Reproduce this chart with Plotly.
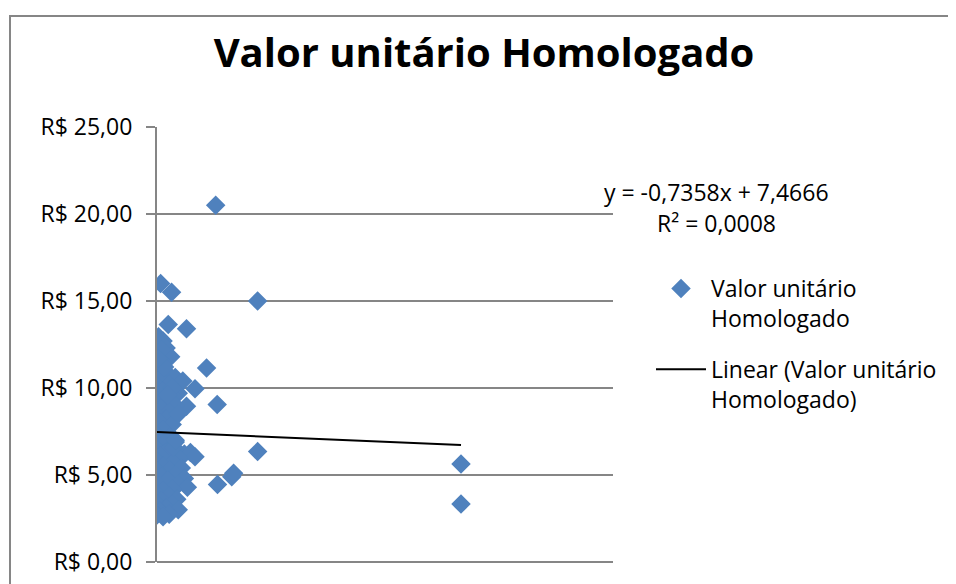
import plotly.graph_objects as go

# ---- data ----
x_vals = [0.012, 0.048, 0.037, 0.097, 0.005, 0.020, 0.000, 0.030, 0.010, 0.045,
          0.020, 0.163, 0.000, 0.030, 0.060, 0.010, 0.085, 0.040, 0.000, 0.020,
          0.125, 0.070, 0.050, 0.000, 0.030, 0.097, 0.198, 0.060, 0.015, 0.040,
          0.000, 0.030, 0.010, 0.050, 0.020, 0.000, 0.040, 0.010, 0.060, 0.020,
          0.000, 0.045, 0.090, 0.110, 0.125, 0.030, 0.010, 0.070, 0.000, 0.050,
          0.020, 0.080, 0.040, 0.000, 0.060, 0.015, 0.090, 0.035, 0.000, 0.070,
          0.100, 0.050, 0.020, 0.000, 0.040, 0.065, 0.015, 0.000, 0.050, 0.030,
          0.070, 0.010, 0.000, 0.040, 0.020,
          0.000, 0.015, 0.025, 0.005, 0.050, 0.035, 0.070, 0.055, 0.060,
          0.193, 0.331, 0.331, 0.199, 0.246, 0.252, 1.000, 1.000]
y_vals = [16.00, 15.50, 13.65, 13.40, 12.95, 12.70, 12.40, 12.30, 12.00, 11.80,
          11.50, 11.15, 11.00, 10.90, 10.60, 10.50, 10.40, 10.20, 10.10, 9.80,
          9.95, 9.70, 9.50, 9.30, 9.20, 8.95, 9.05, 9.00, 8.80, 8.60,
          8.40, 8.20, 8.00, 7.90, 7.60, 7.30, 7.20, 7.00, 6.90, 6.70,
          6.50, 6.50, 6.20, 6.30, 6.05, 6.30, 6.10, 6.00, 5.80, 5.70,
          5.50, 5.40, 5.30, 5.20, 5.00, 4.90, 4.80, 4.70, 4.50, 4.45,
          4.30, 4.20, 4.10, 3.90, 3.80, 3.60, 3.50, 3.30, 3.30, 3.10,
          3.00, 2.90, 2.70, 2.75, 2.60,
          12.80, 12.20, 11.20, 11.70, 10.00, 9.60, 8.50, 6.60, 7.00,
          20.50, 15.00, 6.35, 4.45, 4.90, 5.10, 5.63, 3.33]

trend_slope = -0.7358
trend_intercept = 7.4666
trend_r2_text = "R² = 0,0008"
trend_eq_text = "y = -0,7358x + 7,4666"

y_tick_vals = [0, 5, 10, 15, 20, 25]
y_tick_text = ["R$ 0,00", "R$ 5,00", "R$ 10,00", "R$ 15,00", "R$ 20,00", "R$ 25,00"]

title_text = "Valor unitário Homologado"
series_name = "Valor unitário<br>Homologado"
trend_name = "Linear (Valor unitário<br>Homologado)"

# ---- layout geometry ----
# the page body has an 8px margin, so the figure starts at page (8, 8)
OFF = 8
W, H = 956 - OFF, 584 - OFF
PLOT_L, PLOT_R, PLOT_T, PLOT_B = 157, 613, 127, 562   # page pixels of plot area
L = PLOT_L - OFF
T = PLOT_T - OFF
R = W - (PLOT_R - OFF)
B = H - (PLOT_B - OFF)
PW, PH = W - L - R, H - T - B


def px(xp):
    """page x pixel -> paper coordinate"""
    return (xp - OFF - L) / PW


def py(yp):
    """page y pixel -> paper coordinate"""
    return (H - B - (yp - OFF)) / PH


FONT = "Open Sans"
GREY = "#868686"
BLUE = "#4F81BD"

fig = go.Figure()

fig.add_trace(go.Scatter(
    x=x_vals, y=y_vals, mode="markers", name=series_name,
    marker=dict(symbol="diamond", size=15, color=BLUE, line=dict(width=0)),
    legendgroup="a",
))

tx = [min(x_vals), max(x_vals)]
ty = [trend_intercept + trend_slope * v for v in tx]
fig.add_trace(go.Scatter(
    x=tx, y=ty, mode="lines", name=trend_name,
    line=dict(color="black", width=2),
    legendgroup="b",
))

fig.update_layout(
    width=W, height=H,
    margin=dict(l=L, r=R, t=T, b=B, autoexpand=False),
    paper_bgcolor="white", plot_bgcolor="white",
    font=dict(family=FONT, size=22, color="black"),
    title=dict(text="<b>" + title_text + "</b>", x=(484 - OFF) / W, xanchor="center",
               y=1 - (53 - OFF) / H, yanchor="middle", yref="container",
               font=dict(family=FONT, size=40, color="black")),
    showlegend=True,
    legend=dict(x=px(651), y=py(267), xanchor="left", yanchor="top",
                font=dict(family=FONT, size=23, color="black"),
                valign="top", tracegroupgap=18, itemwidth=50,
                bgcolor="rgba(0,0,0,0)"),
    xaxis=dict(range=[0, 1.5], showgrid=False, zeroline=False,
               showticklabels=False, ticks="", showline=False, fixedrange=True),
    yaxis=dict(range=[0, 25], tickvals=y_tick_vals, ticktext=y_tick_text,
               showgrid=True, gridcolor=GREY, gridwidth=2,
               zeroline=True, zerolinecolor=GREY, zerolinewidth=2,
               showline=True, linecolor=GREY, linewidth=2,
               ticks="outside", ticklen=9, tickcolor=GREY, tickwidth=2,
               tickfont=dict(family=FONT, size=23, color="black"),
               ticklabelstandoff=9, fixedrange=True),
    shapes=[dict(type="rect", xref="paper", yref="paper",
                 x0=px(10), x1=px(1100), y0=py(700), y1=py(16),
                 line=dict(color=GREY, width=2), fillcolor="rgba(0,0,0,0)",
                 layer="below")],
    annotations=[
        dict(text=trend_eq_text, xref="paper", yref="paper", x=px(716), y=py(192),
             xanchor="center", yanchor="middle", showarrow=False,
             font=dict(family=FONT, size=23, color="black")),
        dict(text=trend_r2_text, xref="paper", yref="paper", x=px(716), y=py(223),
             xanchor="center", yanchor="middle", showarrow=False,
             font=dict(family=FONT, size=23, color="black")),
    ],
)

fig.write_html("out.html")
